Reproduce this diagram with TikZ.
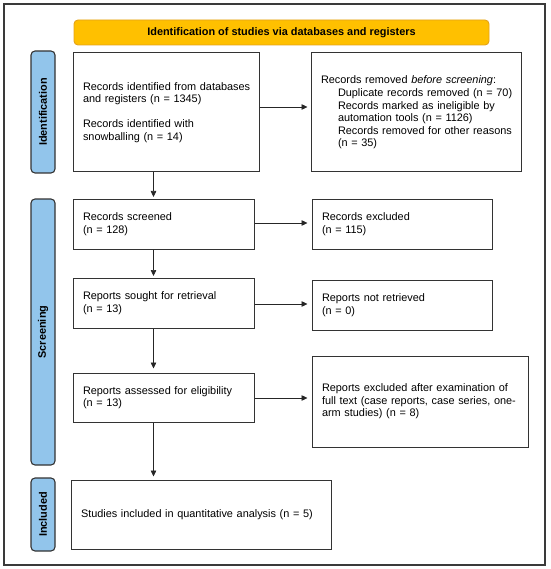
\documentclass[tikz,border=0pt]{standalone}
\usepackage{fontspec}
\setmainfont{Liberation Sans}
\usetikzlibrary{arrows.meta}
\definecolor{framegray}{HTML}{3A3A3A}
\definecolor{boxgray}{HTML}{333333}
\definecolor{bannerfill}{HTML}{FFC000}
\definecolor{bannerdraw}{HTML}{E3A21A}
\definecolor{sidefill}{HTML}{92C5EB}
\tikzset{
  every node/.style={font=\fontsize{10.9}{12.6}\selectfont},
  flowbox/.style={draw=boxgray, line width=1pt, fill=white, inner xsep=10pt, inner ysep=0pt, align=left},
  sidelab/.style={draw=boxgray, line width=1.1pt, fill=sidefill, rounded corners=4pt, rotate=90, minimum height=24pt, inner sep=0pt, font=\fontsize{10.9}{12.6}\selectfont\bfseries},
  bannerbox/.style={draw=bannerdraw, line width=0.9pt, fill=bannerfill, rounded corners=4pt, minimum width=415pt, minimum height=25pt, inner sep=0pt, font=\fontsize{10.9}{12.6}\selectfont\bfseries},
  arr/.style={draw=black!85, line width=0.7pt, -{Triangle[length=6pt,width=5.5pt]}, shorten >=1.5pt}
}
\begin{document}
\begin{tikzpicture}[x=1pt,y=-1pt]
\useasboundingbox (0,0) rectangle (550,569);
\draw[framegray, line width=1.5pt] (4,4) rectangle (545,565);

\node[bannerbox] (ban) at (281.5,32.5) {Identification of studies via databases and registers};

\node[sidelab, minimum width=122pt] (lid) at (43,112) {Identification};
\node[sidelab, minimum width=266pt] (lsc) at (43,332) {Screening};
\node[sidelab, minimum width=73pt] (lin) at (43,514.5) {Included};

\node[flowbox, text width=166pt, minimum height=119pt] (b1) at (166,112.5)
  {\mbox{Records identified from databases}\\\mbox{and registers (n = 1345)}\\[12.6pt]\mbox{Records identified with}\\\mbox{snowballing (n = 14)}};
\node[flowbox, text width=190pt, minimum height=119pt] (rem) at (416,112.5)
  {\mbox{Records removed \emph{before screening}:}\\
   \mbox{\hspace*{17pt}Duplicate records removed (n = 70)}\\
   \mbox{\hspace*{17pt}Records marked as ineligible by}\\
   \mbox{\hspace*{17pt}automation tools (n = 1126)}\\
   \mbox{\hspace*{17pt}Records removed for other reasons}\\
   \mbox{\hspace*{17pt}(n = 35)}};

\node[flowbox, text width=161pt, minimum height=50pt] (scr) at (163.5,224) {Records screened\\(n = 128)};
\node[flowbox, text width=160pt, minimum height=50pt] (exc) at (402,224) {Records excluded\\(n = 115)};
\node[flowbox, text width=161pt, minimum height=50pt] (sou) at (163.5,303) {\mbox{Reports sought for retrieval}\\(n = 13)};
\node[flowbox, text width=160pt, minimum height=50pt] (nr) at (402,305) {Reports not retrieved\\(n = 0)};
\node[flowbox, text width=161pt, minimum height=49pt] (ass) at (163.5,397.5) {\mbox{Reports assessed for eligibility}\\(n = 13)};
\node[flowbox, text width=196pt, minimum height=91pt] (rex) at (420,401.5)
  {\mbox{Reports excluded after examination of}\\\mbox{full text (case reports, case series, one-}\\\mbox{arm studies) (n = 8)}};
\node[flowbox, text width=240pt, minimum height=69pt] (inc) at (201,514.5) {\mbox{Studies included in quantitative analysis (n = 5)}};

\coordinate (ax) at (153.5,0);
\coordinate (y1) at (0,107);
\coordinate (y2) at (0,223);
\coordinate (y3) at (0,304);
\coordinate (y4) at (0,398);

\draw[arr] (b1.south -| ax) -- (scr.north -| ax);
\draw[arr] (scr.south -| ax) -- (sou.north -| ax);
\draw[arr, shorten >=4pt] (sou.south -| ax) -- (ass.north -| ax);
\draw[arr, shorten >=3pt] (ass.south -| ax) -- (inc.north -| ax);

\draw[arr, shorten >=3pt] (b1.east |- y1) -- (rem.west |- y1);
\draw[arr, shorten >=4pt] (scr.east |- y2) -- (exc.west |- y2);
\draw[arr, shorten >=4pt] (sou.east |- y3) -- (nr.west |- y3);
\draw[arr, shorten >=4pt] (ass.east |- y4) -- (rex.west |- y4);
\end{tikzpicture}
\end{document}
